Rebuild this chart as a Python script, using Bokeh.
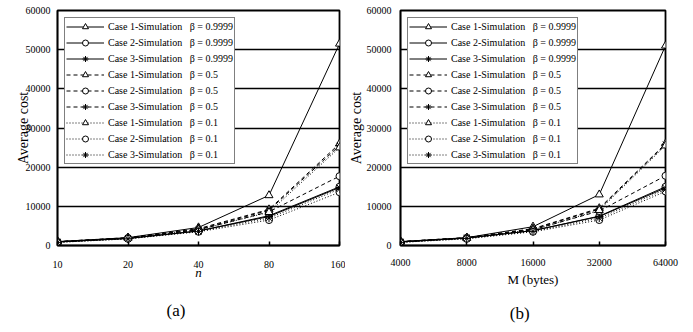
from bokeh.plotting import figure
from bokeh.layouts import row
from bokeh.models import (Range1d, FixedTicker, PrintfTickFormatter, LinearAxis,
                          LinearScale)
from bokeh.embed import file_html
from bokeh.resources import INLINE

# ---------------- data ----------------
n_vals = [10, 20, 40, 80, 160]
m_vals = [4000, 8000, 16000, 32000, 64000]
y_ticks = [0, 10000, 20000, 30000, 40000, 50000, 60000]

labels = [
    "Case 1-Simulation \u2002\u03b2 = 0.9999",
    "Case 2-Simulation \u2002\u03b2 = 0.9999",
    "Case 3-Simulation \u2002\u03b2 = 0.9999",
    "Case 1-Simulation \u2002\u03b2 = 0.5",
    "Case 2-Simulation \u2002\u03b2 = 0.5",
    "Case 3-Simulation \u2002\u03b2 = 0.5",
    "Case 1-Simulation \u2002\u03b2 = 0.1",
    "Case 2-Simulation \u2002\u03b2 = 0.1",
    "Case 3-Simulation \u2002\u03b2 = 0.1",
]

a_c1_09999 = [1000, 2000, 4600, 12800, 51500]
a_c2_09999 = [900, 1800, 3700, 7600, 15000]
a_c3_09999 = [900, 1800, 3700, 7400, 14800]
a_c1_05 = [1000, 2000, 4300, 9200, 26000]
a_c2_05 = [900, 1900, 4000, 8600, 17700]
a_c3_05 = [1000, 1900, 4100, 9000, 25500]
a_c1_01 = [1000, 1900, 4000, 8500, 25000]
a_c2_01 = [800, 1700, 3500, 6500, 13600]
a_c3_01 = [800, 1700, 3600, 7000, 14400]

b_c1_09999 = [1000, 2000, 4800, 13000, 51000]
b_c2_09999 = [900, 1900, 3800, 7500, 15000]
b_c3_09999 = [900, 1900, 3800, 7400, 14700]
b_c1_05 = [1000, 2000, 4300, 9500, 26000]
b_c2_05 = [900, 1900, 4000, 8800, 17800]
b_c3_05 = [1000, 2000, 4200, 9300, 25800]
b_c1_01 = [1000, 1900, 4000, 9000, 25500]
b_c2_01 = [800, 1700, 3500, 6500, 13800]
b_c3_01 = [800, 1800, 3600, 7000, 14300]

a_series = [a_c1_09999, a_c2_09999, a_c3_09999, a_c1_05, a_c2_05, a_c3_05, a_c1_01, a_c2_01, a_c3_01]
b_series = [b_c1_09999, b_c2_09999, b_c3_09999, b_c1_05, b_c2_05, b_c3_05, b_c1_01, b_c2_01, b_c3_01]

panel_tags = ["(a)", "(b)"]

dashes = ["solid", "solid", "solid", "4 3", "4 3", "4 3", "1 2", "1 2", "1 2"]
markers = ["triangle", "circle", "asterisk"] * 3
msize = {"triangle": 8, "circle": 7, "asterisk": 8}

FONT = "Liberation Serif"


def make_panel(xs, series, xlabel, xlabel_style, tag, width, height,
               bl, br, bt, bb, tag_pos, tag_standoff, ylab_standoff,
               ytick_standoff, xtick_standoff, xlab_standoff):
    p = figure(width=width, height=height, x_axis_type="log",
               x_range=Range1d(xs[0], xs[-1]), y_range=Range1d(0, 60000),
               output_backend="svg", toolbar_location=None,
               min_border_left=bl, min_border_right=br,
               min_border_top=bt, min_border_bottom=bb)
    p.background_fill_color = "white"
    p.border_fill_color = "white"
    p.outline_line_color = "black"
    p.outline_line_width = 1.8

    for ys, lab, dsh, mk in zip(series, labels, dashes, markers):
        p.line(xs, ys, line_color="black", line_width=1, line_dash=dsh,
               legend_label=lab)
        p.scatter(xs, ys, marker=mk, size=msize[mk], line_color="black",
                  fill_color="white", line_width=1, legend_label=lab)

    p.xaxis.ticker = FixedTicker(ticks=xs, minor_ticks=[])
    p.xaxis.formatter = PrintfTickFormatter(format="%d")
    p.yaxis.ticker = FixedTicker(ticks=y_ticks, minor_ticks=[])
    p.yaxis.formatter = PrintfTickFormatter(format="%d")
    for ax in (p.xaxis[0], p.yaxis[0]):
        ax.axis_line_color = "black"
        ax.axis_line_width = 1.5
        ax.major_label_text_font = FONT
        ax.major_label_text_font_size = "10px"
        ax.major_label_text_color = "black"
        ax.minor_tick_line_color = None
        ax.major_tick_out = 0
        ax.axis_label_text_font = FONT
        ax.axis_label_text_color = "black"
    p.xaxis.major_tick_in = 4
    p.xaxis.major_tick_line_width = 1.5
    p.yaxis.major_tick_in = 0
    p.xaxis.major_label_standoff = xtick_standoff
    p.yaxis.major_label_standoff = ytick_standoff
    p.xaxis.axis_label = xlabel
    p.xaxis.axis_label_text_font_style = xlabel_style
    p.xaxis.axis_label_text_font_size = "13px"
    p.xaxis.axis_label_standoff = xlab_standoff
    p.yaxis.axis_label = "Average cost"
    p.yaxis.axis_label_text_font_style = "normal"
    p.yaxis.axis_label_text_font_size = "14px"
    p.yaxis.axis_label_standoff = ylab_standoff

    p.xgrid.grid_line_color = None
    p.ygrid.grid_line_color = "black"
    p.ygrid.grid_line_width = 1.3

    lg = p.legend[0]
    lg.location = "top_left"
    lg.margin = 7
    lg.padding = 1
    lg.spacing = 1
    lg.label_height = 15
    lg.glyph_height = 15
    lg.glyph_width = 38
    lg.label_standoff = 4
    lg.label_text_font = FONT
    lg.label_text_font_size = "10px"
    lg.label_text_color = "black"
    lg.border_line_color = "black"
    lg.border_line_width = 1.5
    lg.background_fill_alpha = 1.0

    # panel caption "(a)" / "(b)" as a tick-less extra (linear) axis below
    p.extra_x_ranges = {"tag": Range1d(0, 100)}
    p.extra_x_scales = {"tag": LinearScale()}
    tag_axis = LinearAxis(x_range_name="tag",
                          ticker=FixedTicker(ticks=[tag_pos], minor_ticks=[]),
                          major_label_overrides={tag_pos: tag})
    tag_axis.axis_line_color = None
    tag_axis.major_tick_line_color = None
    tag_axis.minor_tick_line_color = None
    tag_axis.major_tick_in = 0
    tag_axis.major_tick_out = 0
    tag_axis.major_label_standoff = tag_standoff
    tag_axis.major_label_text_font = FONT
    tag_axis.major_label_text_font_size = "17px"
    tag_axis.major_label_text_color = "black"
    p.add_layout(tag_axis, "below")
    return p


pa = make_panel(n_vals, a_series, "n", "italic", panel_tags[0], 345, 332,
                57, 6, 10, 81, 42, 18, -8, 7, 15, -6)
pb = make_panel(m_vals, b_series, "M (bytes)", "normal", panel_tags[1], 348, 332,
                48, 28, 10, 87, 45, 14, 0, 9, 13, 3)

layout = row(pa, pb)
open("out.html", "w").write(file_html(layout, INLINE))
